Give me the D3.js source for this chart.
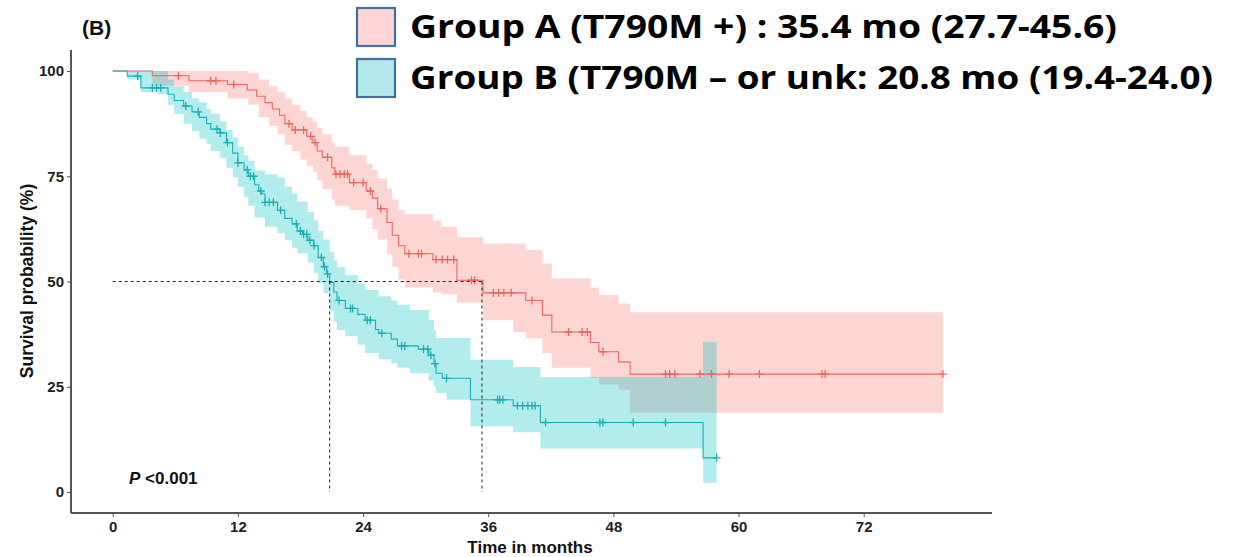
<!DOCTYPE html>
<html>
<head>
<meta charset="utf-8">
<script src="https://cdn.jsdelivr.net/npm/d3@7"></script>
<style>
  body { margin: 0; background: #fff; }
  text { font-family: Arial, "Liberation Sans", sans-serif; }
</style>
</head>
<body>
<div class="chart"></div>
<script>
// Group A (T790M +) : step times (months) and survival (%)
var timesA = [0, 3.8, 7.3, 11.0, 12.9, 13.8, 14.6, 15.3, 16.0, 16.5, 17.2, 18.6, 19.2, 19.6, 20.1, 21.0, 21.3,
  22.7, 24.3, 24.9, 25.4, 26.3, 26.8, 27.4, 28.0, 30.7, 33.0, 35.5, 39.6, 41.2, 42.1, 45.8, 46.6, 48.5, 49.6];
var survA = [100, 98.9, 97.7, 96.8, 95.5, 94, 92.5, 91, 89.5, 87.5, 86, 84.5, 83, 81, 79.5, 77, 75.5,
  73.5, 71.5, 69.8, 67.3, 64, 61, 58.5, 56.6, 55.2, 50.3, 47.3, 45.5, 42, 38, 35.5, 33.3, 30.9, 28];
var censorA = [6.3, 9.4, 9.9, 11.6, 16.9, 17.5, 18.3, 19.0, 19.4, 20.6, 21.4, 21.8, 22.2, 22.5, 23.1, 24.0, 24.7,
  25.7, 28.4, 29.3, 29.6, 31.0, 31.6, 32.1, 32.7, 34.4, 34.7, 36.5, 37.0, 37.5, 38.2, 40.2, 43.7, 45.0, 45.5,
  47.0, 53.0, 53.4, 53.9, 56.3, 57.4, 59.1, 62.0, 68.0, 68.3, 79.6];
var endA = 79.6;

// Group A confidence band (step times, lower %, upper %)
var bandTimesA = [0, 3.8, 7.3, 11.0, 13.0, 14.0, 15.0, 15.8, 16.5, 17.2, 18.0, 18.6, 19.2, 19.6, 20.1, 21.0, 21.3,
  22.7, 24.3, 24.9, 25.4, 26.3, 26.8, 27.4, 28.0, 30.7, 31.5, 33.0, 35.5, 38.4, 39.6, 41.2, 42.1, 45.8, 46.6, 48.5, 49.6];
var bandLowA = [100, 96.5, 95, 93.5, 92, 89, 87, 85, 82.5, 81, 79, 77.5, 76, 74, 72, 69.5, 68,
  67, 65, 62.5, 60, 56.5, 53.5, 50.5, 48.6, 47.4, 47, 45, 40.8, 38, 36.5, 33, 29.5, 27, 25.5, 24.2, 18.8];
var bandHighA = [100, 100, 100, 100, 99.5, 98, 96.5, 95, 93.5, 92, 90.5, 89, 88, 86.5, 85, 83, 82,
  80, 78, 76.5, 74.5, 72, 69.5, 67, 66, 64.5, 63, 60.5, 59, 59, 57.5, 54.3, 50.7, 48.5, 46.8, 44.8, 42.7];

// Group B (T790M - or unk)
var timesB = [0, 1.4, 2.7, 5.3, 5.9, 6.8, 7.6, 8.3, 9.0, 9.4, 10.3, 10.9, 11.5, 12.0, 12.6, 13.0, 13.6, 14.0,
  14.3, 14.6, 15.8, 16.5, 17.2, 17.7, 18.2, 18.7, 19.3, 19.7, 20.2, 20.5, 20.8, 21.2, 21.5, 22.3, 23.5, 24.2,
  25.2, 25.5, 26.7, 27.3, 29.3, 30.3, 30.8, 31.0, 31.6, 34.3, 38.4, 41.0, 56.6];
var survB = [100, 98.8, 96, 94.5, 93, 91.7, 90.3, 89, 87.5, 86.2, 85.3, 83, 80.5, 78.2, 76.5, 75, 73, 71.5,
  70.8, 68.8, 66.9, 65, 63.7, 62, 61.2, 59.8, 58.5, 55.7, 53.5, 51.8, 49.8, 47.5, 45.5, 43.6, 42.2, 40.8,
  38.6, 37.7, 36.3, 34.7, 33.9, 32.5, 30.5, 28.2, 27, 21.9, 20.5, 16.5, 8.1];
var censorB = [2.4, 3.8, 4.2, 4.6, 7.0, 8.2, 10.0, 10.3, 11.0, 12.0, 12.9, 13.2, 13.5, 14.2, 14.6, 15.0, 15.4,
  16.1, 17.6, 18.0, 18.3, 18.6, 18.9, 19.3, 20.0, 20.3, 20.6, 21.7, 22.8, 23.0, 24.4, 24.7, 25.8, 27.7, 28.0,
  29.8, 30.2, 30.5, 30.9, 32.0, 36.9, 37.1, 37.4, 38.8, 39.3, 39.8, 40.2, 40.5, 41.5, 46.7, 47.0, 49.9, 53.0, 57.9];
var endB = 57.9;

var bandTimesB = [0, 1.4, 2.7, 4.3, 5.3, 5.9, 6.8, 7.6, 8.3, 9.0, 9.4, 10.3, 10.9, 11.5, 12.0, 12.6, 13.0, 13.6,
  14.6, 15.8, 16.5, 17.2, 17.7, 18.7, 19.3, 19.7, 20.2, 20.8, 21.2, 21.5, 22.3, 23.5, 24.2, 25.5, 26.7, 27.3,
  28.5, 30.3, 30.8, 31.0, 32.0, 34.3, 38.4, 41.0, 56.6];
var bandLowB = [100, 98, 95, 94.5, 92, 89.8, 87.5, 85.8, 84, 82.7, 81, 79.4, 77, 74.7, 72.5, 70, 68, 65.2,
  63, 61.5, 59.8, 58, 56.7, 54.5, 52, 49.5, 47.2, 43, 40.5, 38.5, 37, 35, 33, 31.5, 30.6, 29.5,
  28.2, 26.5, 25, 23.5, 21.9, 15.6, 14.2, 10.3, 2.2];
var bandHighB = [100, 100, 100, 100, 98, 96.4, 95, 93.5, 92.5, 91, 89.8, 88, 86, 84.2, 82, 80, 78.7, 76.4,
  75.5, 74.7, 72.5, 70.9, 69, 66.5, 64.5, 62, 60, 57, 55, 53.4, 51.5, 49.5, 48, 46.5, 45.5, 44.5,
  43.2, 40.8, 38.5, 36.6, 36.6, 31.4, 29.7, 27.3, 35.6];

var medians = [20.8, 35.4];
var xTicks = [0, 12, 24, 36, 48, 60, 72];
var yTicks = [0, 25, 50, 75, 100];
var legendLabels = ["Group A (T790M +) : 35.4 mo (27.7-45.6)", "Group B (T790M \u2013 or unk: 20.8 mo (19.4-24.0)"];

var svgWidth = 1245;
var svgHeight = 557;

var svg = d3.select(".chart")
  .append("svg")
  .attr("width", svgWidth)
  .attr("height", svgHeight)
  .style("display", "block");

svg.append("rect").attr("width", svgWidth).attr("height", svgHeight).attr("fill", "#fff");

var xScale = d3.scaleLinear().domain([-4, 84.3]).range([71, 992]);
var yScale = d3.scaleLinear().domain([-5, 105]).range([513, 50]);

function stepPoints(times, vals, tEnd) {
  var pts = times.map(function (t, i) { return [t, vals[i]]; });
  pts.push([tEnd, vals[vals.length - 1]]);
  return pts;
}

function bandPoints(times, lo, hi, tEnd) {
  var pts = times.map(function (t, i) { return [t, lo[i], hi[i]]; });
  pts.push([tEnd, lo[lo.length - 1], hi[hi.length - 1]]);
  return pts;
}

function survAt(times, vals, t) {
  var i = d3.bisectRight(times, t) - 1;
  return vals[Math.max(0, i)];
}

var area = d3.area()
  .curve(d3.curveStepAfter)
  .x(function (d) { return xScale(d[0]); })
  .y0(function (d) { return yScale(d[1]); })
  .y1(function (d) { return yScale(d[2]); });

var line = d3.line()
  .curve(d3.curveStepAfter)
  .x(function (d) { return xScale(d[0]); })
  .y(function (d) { return yScale(d[1]); });

var groups = [
  { times: timesA, surv: survA, censor: censorA, end: endA, bt: bandTimesA, lo: bandLowA, hi: bandHighA, color: "#F8766D", line: "#E8675E" },
  { times: timesB, surv: survB, censor: censorB, end: endB, bt: bandTimesB, lo: bandLowB, hi: bandHighB, color: "#00BFC4", line: "#1AAFB5" }
];

var plot = svg.append("g");

// confidence bands
groups.forEach(function (g) {
  plot.append("path")
    .datum(bandPoints(g.bt, g.lo, g.hi, g.end))
    .attr("d", area)
    .attr("fill", g.color)
    .attr("fill-opacity", 0.3);
});

// survival curves and censor marks
groups.forEach(function (g) {
  plot.append("path")
    .datum(stepPoints(g.times, g.surv, g.end))
    .attr("d", line)
    .attr("fill", "none")
    .attr("stroke", g.line)
    .attr("stroke-width", 1.1);

  plot.selectAll(null)
    .data(g.censor)
    .enter()
    .append("path")
    .attr("d", function (c) {
      var cx = xScale(c), cy = yScale(survAt(g.times, g.surv, c));
      return "M" + (cx - 4) + "," + cy + "H" + (cx + 4) + "M" + cx + "," + (cy - 4) + "V" + (cy + 4);
    })
    .attr("stroke", g.line)
    .attr("stroke-width", 1.3)
    .attr("fill", "none");
});

// median lines
plot.append("line")
  .attr("x1", xScale(0)).attr("x2", xScale(d3.max(medians)))
  .attr("y1", yScale(50)).attr("y2", yScale(50))
  .attr("stroke", "#222").attr("stroke-width", 1).attr("stroke-dasharray", "3,3");

plot.selectAll(".median")
  .data(medians)
  .enter()
  .append("line")
  .attr("x1", d => xScale(d)).attr("x2", d => xScale(d))
  .attr("y1", yScale(50)).attr("y2", yScale(0))
  .attr("stroke", "#222").attr("stroke-width", 1).attr("stroke-dasharray", "3,3");

// axes
var bottomAxis = d3.axisBottom(xScale).tickValues(xTicks).tickSize(4).tickSizeOuter(0).tickPadding(4);
var leftAxis = d3.axisLeft(yScale).tickValues(yTicks).tickSize(4).tickSizeOuter(0).tickPadding(3);

var gx = svg.append("g")
  .attr("transform", "translate(0, 513)")
  .call(bottomAxis);
gx.select(".domain").attr("stroke", "#555").attr("stroke-width", 2).attr("d", "M71,0H992");

var gy = svg.append("g")
  .attr("transform", "translate(71, 0)")
  .call(leftAxis);
gy.select(".domain").attr("stroke", "#555").attr("stroke-width", 2).attr("d", "M0,50V513");

[gx, gy].forEach(function (g) {
  g.selectAll(".tick line").attr("stroke", "#555").attr("stroke-width", 1);
  g.selectAll(".tick text")
    .attr("fill", "#222")
    .style("font-size", "15px")
    .style("font-weight", "bold")
    .style("font-family", "Arial, 'Liberation Sans', sans-serif");
});

// axis titles
svg.append("text")
  .attr("transform", "translate(33, 281) rotate(-90)")
  .attr("text-anchor", "middle")
  .attr("fill", "#111")
  .style("font-size", "17.5px")
  .style("font-weight", "bold")
  .text("Survival probability (%)");

svg.append("text")
  .attr("x", 530)
  .attr("y", 553)
  .attr("text-anchor", "middle")
  .attr("fill", "#111")
  .style("font-size", "17px")
  .style("font-weight", "bold")
  .text("Time in months");

svg.append("text")
  .attr("x", 82)
  .attr("y", 35)
  .attr("fill", "#111")
  .style("font-size", "21px")
  .style("font-weight", "bold")
  .text("(B)");

var ptext = svg.append("text")
  .attr("x", 129)
  .attr("y", 484)
  .attr("fill", "#111")
  .style("font-size", "17px")
  .style("font-weight", "bold");
ptext.append("tspan").style("font-style", "italic").text("P");
ptext.append("tspan").text(" <0.001");

// legend
var legendFill = ["#FFD5D5", "#B4E8EC"];
var legendWidths = [707, 803];
var legend = svg.append("g");
legendLabels.forEach(function (lab, i) {
  legend.append("rect")
    .attr("x", 357)
    .attr("y", 8 + i * 51)
    .attr("width", 38)
    .attr("height", 38)
    .attr("fill", legendFill[i])
    .attr("stroke", "#41719C")
    .attr("stroke-width", 2.2);
  legend.append("text")
    .attr("x", 410)
    .attr("y", 38 + i * 51)
    .attr("fill", "#000")
    .attr("textLength", legendWidths[i])
    .attr("lengthAdjust", "spacingAndGlyphs")
    .style("font-family", "'Open Sans', 'Noto Sans', sans-serif")
    .style("font-size", "32px")
    .style("font-weight", "bold")
    .text(lab);
});
</script>
</body>
</html>
